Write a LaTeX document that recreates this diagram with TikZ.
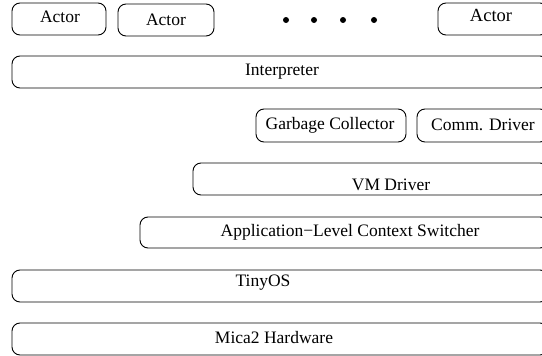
\documentclass[tikz,border=0pt]{standalone}
\usepackage{fontspec}
\setmainfont{Liberation Serif}
\begin{document}
\begin{tikzpicture}[x=1pt,y=-1pt,
  layer/.style={draw=black,line width=0.9pt,rounded corners=8pt,inner sep=0pt},
  lbl/.style={inner sep=0pt,font=\fontsize{17.5}{20}\selectfont},
  dotmark/.style={circle,fill=black,inner sep=0pt,minimum size=6pt}]
\useasboundingbox (0,0) rectangle (542,356);
\begin{scope}
\clip (0,0) rectangle (542,356);
% Actors
\draw[layer] (12,3) rectangle (106,35);
\node[lbl] (a1) at (60,17) {Actor};
\draw[layer] (118,4) rectangle (214,36);
\node[lbl] (a2) at (166,20) {Actor};
\node[dotmark] (d1) at (286,20) {};
\node[dotmark] (d2) at (314,20) {};
\node[dotmark] (d3) at (343,20) {};
\node[dotmark] (d4) at (374,20) {};
\draw[layer] (438,3) rectangle (548,35);
\node[lbl,font=\fontsize{18.5}{21}\selectfont] (a3) at (491,15) {Actor};
% Interpreter
\draw[layer] (12,56) rectangle (548,88);
\node[lbl] (interp) at (282,72) {Interpreter};
% GC, Comm
\draw[layer] (256,109) rectangle (406,142);
\node[lbl] (gc) at (330,125) {Garbage Collector};
\draw[layer] (417,109) rectangle (548,142);
\node[lbl] (comm) at (483,125) {Comm. Driver};
% VM Driver
\draw[layer] (193,163) rectangle (548,195);
\node[lbl] (vm) at (391,185) {VM Driver};
% Context switcher
\draw[layer] (140,217) rectangle (548,248);
\node[lbl] (ctx) at (350,232) {Application−Level Context Switcher};
% TinyOS
\draw[layer] (12,270) rectangle (548,302);
\node[lbl] (tos) at (263,283) {TinyOS};
% Mica2
\draw[layer] (12,323) rectangle (548,355);
\node[lbl] (mica) at (274,338) {Mica2 Hardware};
\end{scope}
\end{tikzpicture}
\end{document}
